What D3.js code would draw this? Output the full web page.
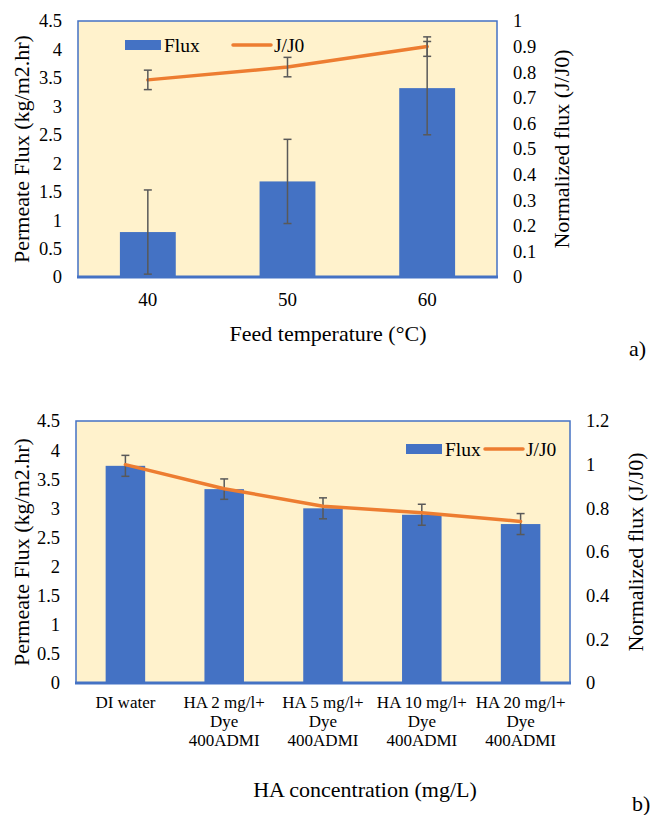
<!DOCTYPE html>
<html>
<head>
<meta charset="utf-8">
<script src="https://cdn.jsdelivr.net/npm/d3@7"></script>
<style>
  body { margin: 0; background: #fff; }
  svg { display: block; font-family: "Liberation Serif", "Times New Roman", serif; }
</style>
</head>
<body>
<div id="chart"></div>
<script>
// chart a) data
const tempLabels = ["40", "50", "60"];
const fluxA = [0.79, 1.68, 3.32];
const fluxErrA = [0.74, 0.74, 0.82];
const ratioA = [0.77, 0.82, 0.90];
const ratioErrA = [0.038, 0.038, 0.038];
const leftTicksA = [0, 0.5, 1, 1.5, 2, 2.5, 3, 3.5, 4, 4.5];
const rightTicksA = [0, 0.1, 0.2, 0.3, 0.4, 0.5, 0.6, 0.7, 0.8, 0.9, 1];

// chart b) data
const haLabels = [
  ["DI water"],
  ["HA 2 mg/l+", "Dye", "400ADMI"],
  ["HA 5 mg/l+", "Dye", "400ADMI"],
  ["HA 10 mg/l+", "Dye", "400ADMI"],
  ["HA 20 mg/l+", "Dye", "400ADMI"]
];
const fluxB = [3.73, 3.33, 3.00, 2.89, 2.73];
const fluxErrB = [0.18, 0.175, 0.18, 0.18, 0.18];
const ratioB = [1.0, 0.89, 0.81, 0.78, 0.74];
const leftTicksB = [0, 0.5, 1, 1.5, 2, 2.5, 3, 3.5, 4, 4.5];
const rightTicksB = [0, 0.2, 0.4, 0.6, 0.8, 1, 1.2];

const blue = "#4472C4";
const orange = "#ED7D31";
const errColor = "#595959";

const svg = d3.select("#chart").append("svg")
  .attr("width", 651)
  .attr("height", 815);

// draws one combo chart (bars on left axis, line on right axis)
function drawCombo(cfg) {
  const g = svg.append("g");
  const x = d3.scaleBand()
    .domain(d3.range(cfg.n))
    .range([cfg.left, cfg.right])
    .paddingInner(0.6)
    .paddingOuter(0.3);
  const xc = i => x(i) + x.bandwidth() / 2;
  const yL = d3.scaleLinear().domain([0, cfg.leftMax]).range([cfg.bottom, cfg.top]);
  const yR = d3.scaleLinear().domain([0, cfg.rightMax]).range([cfg.bottom, cfg.top]);

  // plot area
  g.append("rect")
    .attr("x", cfg.left).attr("y", cfg.top)
    .attr("width", cfg.right - cfg.left).attr("height", cfg.bottom - cfg.top)
    .attr("fill", "#FFF2CC")
    .attr("stroke", blue)
    .attr("stroke-width", 1.5);

  // bars
  g.selectAll(".bar")
    .data(cfg.flux)
    .enter()
    .append("rect")
    .attr("x", (d, i) => x(i))
    .attr("width", x.bandwidth())
    .attr("y", d => yL(d))
    .attr("height", d => cfg.bottom - yL(d))
    .attr("fill", blue);

  // bottom axis line (thick)
  g.append("line")
    .attr("x1", cfg.left - 1).attr("x2", cfg.right + 1)
    .attr("y1", cfg.bottom).attr("y2", cfg.bottom)
    .attr("stroke", blue).attr("stroke-width", 3);

  // error bars helper
  function errBars(vals, errs, scale) {
    const eg = g.append("g").attr("stroke", errColor).attr("stroke-width", 1.5);
    vals.forEach((v, i) => {
      const cx = xc(i);
      const y1 = scale(v + errs[i]);
      const y2 = scale(v - errs[i]);
      eg.append("line").attr("x1", cx).attr("x2", cx).attr("y1", y1).attr("y2", y2);
      eg.append("line").attr("x1", cx - 4).attr("x2", cx + 4).attr("y1", y1).attr("y2", y1);
      eg.append("line").attr("x1", cx - 4).attr("x2", cx + 4).attr("y1", y2).attr("y2", y2);
    });
  }

  errBars(cfg.flux, cfg.fluxErr, yL);

  // ratio line
  g.append("path")
    .datum(cfg.ratio)
    .attr("d", d3.line().x((d, i) => xc(i)).y(d => yR(d)))
    .attr("fill", "none")
    .attr("stroke", orange)
    .attr("stroke-width", 3.5)
    .attr("stroke-linecap", "round");

  if (cfg.ratioErr) errBars(cfg.ratio, cfg.ratioErr, yR);

  // left tick labels
  g.selectAll(".lt")
    .data(cfg.leftTicks)
    .enter()
    .append("text")
    .attr("x", cfg.left - 16)
    .attr("y", d => yL(d))
    .attr("dy", "0.35em")
    .attr("text-anchor", "end")
    .attr("font-size", 18.5)
    .text(d => d);

  // right tick labels
  g.selectAll(".rt")
    .data(cfg.rightTicks)
    .enter()
    .append("text")
    .attr("x", cfg.right + 16)
    .attr("y", d => yR(d))
    .attr("dy", "0.35em")
    .attr("font-size", 18.5)
    .text(d => d);

  // category labels
  cfg.labels.forEach((lines, i) => {
    const t = g.append("text")
      .attr("text-anchor", "middle")
      .attr("font-size", cfg.labelSize);
    lines.forEach((s, k) => {
      t.append("tspan")
        .attr("x", xc(i))
        .attr("y", cfg.bottom + cfg.labelGap + k * 19)
        .text(s);
    });
  });

  // axis titles
  g.append("text")
    .attr("transform", `translate(${cfg.leftTitleX}, ${(cfg.top + cfg.bottom) / 2}) rotate(-90)`)
    .attr("text-anchor", "middle")
    .attr("dy", "0.35em")
    .attr("font-size", 22)
    .text("Permeate Flux (kg/m2.hr)");

  g.append("text")
    .attr("transform", `translate(${cfg.rightTitleX}, ${(cfg.top + cfg.bottom) / 2}) rotate(-90)`)
    .attr("text-anchor", "middle")
    .attr("dy", "0.35em")
    .attr("font-size", 22)
    .text("Normalized flux (J/J0)");

  g.append("text")
    .attr("x", cfg.xTitleX)
    .attr("y", cfg.xTitleY)
    .attr("text-anchor", "middle")
    .attr("font-size", 22)
    .text(cfg.xTitle);

  g.append("text")
    .attr("x", cfg.tagX)
    .attr("y", cfg.tagY)
    .attr("font-size", 22)
    .text(cfg.tag);

  // legend
  const lg = g.append("g").attr("transform", `translate(${cfg.legendX}, ${cfg.legendY})`);
  lg.append("rect").attr("x", 0).attr("y", -5).attr("width", 36).attr("height", 10).attr("fill", blue);
  lg.append("text").attr("x", 39).attr("dy", "0.35em").attr("font-size", 19.5).text("Flux");
  lg.append("line")
    .attr("x1", cfg.legendGap).attr("x2", cfg.legendGap + 38)
    .attr("stroke", orange).attr("stroke-width", 3.5).attr("stroke-linecap", "round");
  lg.append("text").attr("x", cfg.legendGap + 41).attr("dy", "0.35em").attr("font-size", 19.5).text("J/J0");
}

drawCombo({
  n: tempLabels.length,
  left: 78, right: 497, top: 21, bottom: 277,
  leftMax: 4.5, rightMax: 1,
  flux: fluxA, fluxErr: fluxErrA,
  ratio: ratioA, ratioErr: ratioErrA,
  leftTicks: leftTicksA, rightTicks: rightTicksA,
  labels: tempLabels.map(d => [d]),
  labelGap: 29, labelSize: 19,
  leftTitleX: 21, rightTitleX: 561,
  xTitle: "Feed temperature (°C)", xTitleX: 328, xTitleY: 341,
  tag: "a)", tagX: 629, tagY: 356,
  legendX: 125, legendY: 45, legendGap: 108
});

drawCombo({
  n: haLabels.length,
  left: 76, right: 570, top: 421, bottom: 683,
  leftMax: 4.5, rightMax: 1.2,
  flux: fluxB, fluxErr: fluxErrB,
  ratio: ratioB, ratioErr: null,
  leftTicks: leftTicksB, rightTicks: rightTicksB,
  labels: haLabels,
  labelGap: 25, labelSize: 17,
  leftTitleX: 21, rightTitleX: 635,
  xTitle: "HA concentration (mg/L)", xTitleX: 365, xTitleY: 797,
  tag: "b)", tagX: 632, tagY: 811,
  legendX: 406, legendY: 449, legendGap: 79
});
</script>
</body>
</html>
